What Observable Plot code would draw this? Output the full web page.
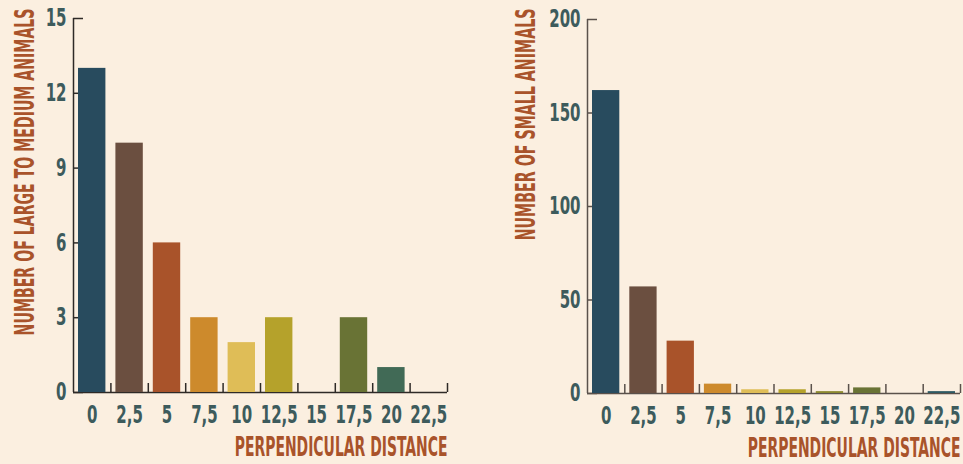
<!DOCTYPE html>
<html><head><meta charset="utf-8">
<script src="https://cdn.jsdelivr.net/npm/d3@7"></script>
<script src="https://cdn.jsdelivr.net/npm/@observablehq/plot@0.6"></script>
<style>
html,body{margin:0;padding:0;background:#fbefe0;}
#wrap{display:flex;width:963px;height:464px;overflow:hidden;}
</style></head><body><div id="wrap"></div>
<script>
const distances = [0, 2.5, 5, 7.5, 10, 12.5, 15, 17.5, 20, 22.5];
const tickLabels = ["0", "2,5", "5", "7,5", "10", "12,5", "15", "17,5", "20", "22,5"];
const largeCounts = [13, 10, 6, 3, 2, 3, 0, 3, 1, 0];
const smallCounts = [162, 57, 28, 5, 2, 2, 1, 3, 0, 1];
const barColors = ["#284b5e", "#6b4f40", "#a9532a", "#cd8a2c", "#dfbd57", "#b5a22b", "#8c8a30", "#697335", "#416a56", "#2e5a64"];
const largeTicks = [0, 3, 6, 9, 12, 15];
const smallTicks = [0, 50, 100, 150, 200];
const xTitle = "PERPENDICULAR DISTANCE";
const largeTitle = "NUMBER OF LARGE TO MEDIUM ANIMALS";
const smallTitle = "NUMBER OF SMALL ANIMALS";

const FONT = '"Liberation Sans Narrow", "DejaVu Sans Condensed", "DejaVu Sans", sans-serif';
const tickColor = "#3d5b5c";
const titleColor = "#a9532a";
const half = 1.25;

function chart({counts, yTicks, yMax, width, marginLeft, marginRight, marginTop, marginBottom, yTitle, yDx, yDy, axisColor}) {
  const data = distances.map((d, i) => ({d, n: counts[i], color: barColors[i]}));
  const bounds = distances.map(d => d + half);
  return Plot.plot({
    width, height: 464, marginLeft, marginRight, marginTop, marginBottom,
    style: {background: "transparent", overflow: "visible", fontFamily: FONT},
    x: {type: "linear", domain: [distances[0] - half, distances[distances.length - 1] + half]},
    y: {domain: [0, yMax]},
    color: {type: "identity"},
    marks: [
      Plot.axisY(yTicks, {tickSize: -10, fill: "none", stroke: axisColor, strokeWidth: 1.5, label: null}),
      Plot.axisY(yTicks, {tickSize: 0, tickPadding: 7, fill: tickColor, stroke: "none", fontSize: 24, fontWeight: "bold", label: null, className: "tk"}),
      Plot.ruleX([distances[0] - half], {stroke: axisColor, strokeWidth: 1.5}),
      Plot.ruleY([0], {stroke: axisColor, strokeWidth: 1.5}),
      Plot.axisX(bounds, {tickSize: -9, fill: "none", stroke: axisColor, strokeWidth: 1.5, label: null}),
      Plot.axisX(distances, {tickSize: 0, tickPadding: 13, fill: tickColor, stroke: "none", fontSize: 24, fontWeight: "bold", label: null, className: "tk", tickFormat: d => tickLabels[distances.indexOf(d)]}),
      Plot.rectY(data, {x1: d => d.d - half, x2: d => d.d + half, y: "n", fill: "color", insetLeft: 5, insetRight: 5}),
      Plot.text([xTitle], {frameAnchor: "bottom-right", lineAnchor: "top", dy: 45, fill: titleColor, fontSize: 26, fontWeight: "bold", className: "xt"}),
      Plot.text([yTitle], {frameAnchor: "top-left", rotate: -90, textAnchor: "end", lineAnchor: "middle", dx: yDx, dy: yDy, fill: titleColor, fontSize: 27, fontWeight: "bold", className: "yt"})
    ]
  });
}

const wrap = document.getElementById("wrap");
const left = chart({counts: largeCounts, yTicks: largeTicks, yMax: 15, width: 481, marginLeft: 73, marginRight: 34, marginTop: 18, marginBottom: 72, yTitle: largeTitle, yDx: -48, yDy: -10, axisColor: "#2e2a27"});
const right = chart({counts: smallCounts, yTicks: smallTicks, yMax: 200, width: 482, marginLeft: 106, marginRight: 3, marginTop: 19, marginBottom: 71, yTitle: smallTitle, yDx: -61, yDy: -11, axisColor: "#5a514b"});
wrap.append(left, right);

const ctx = document.createElement("canvas").getContext("2d");
function measure(str, size) {
  ctx.font = `bold ${size}px ${FONT}`;
  return ctx.measureText(str).width;
}
// horizontally condense a text element around its anchor point
function squeeze(t, k) {
  if (!isFinite(k) || k <= 0) return;
  const tr = t.getAttribute("transform") || "";
  t.setAttribute("transform", `${tr} scale(${k.toFixed(4)},1)`);
}
const kTick = 37 / measure("22,5", 24);
[left, right].forEach(svg => {
  svg.querySelectorAll(".tk text").forEach(t => squeeze(t, kTick));
  svg.querySelectorAll(".xt text").forEach(t => squeeze(t, 213 / measure(xTitle, 26)));
});
left.querySelectorAll(".yt text").forEach(t => squeeze(t, 327 / measure(largeTitle, 27)));
right.querySelectorAll(".yt text").forEach(t => squeeze(t, 232 / measure(smallTitle, 27)));
</script></body></html>
